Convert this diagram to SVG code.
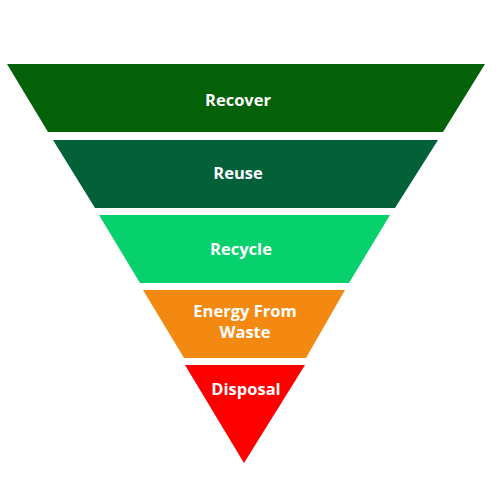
<svg xmlns="http://www.w3.org/2000/svg" width="500" height="500" viewBox="0 0 500 500">
<style>
.lbl{font-family:"Open Sans","Liberation Sans",sans-serif;font-weight:bold;font-size:16.5px;fill:#ffffff;text-anchor:middle}
</style>
<rect width="500" height="500" fill="#ffffff"/>
<g id="recover">
<polygon points="7,64 485,64 443,132 48,132" fill="#036108"/>
<text class="lbl" x="238" y="106">Recover</text>
</g>
<g id="reuse">
<polygon points="53,140 438,140 395,208 95,208" fill="#03613a"/>
<text class="lbl" x="238" y="179">Reuse</text>
</g>
<g id="recycle">
<polygon points="99,215 390,215 349,283 140,283" fill="#06d16c"/>
<text class="lbl" x="241" y="255">Recycle</text>
</g>
<g id="energy">
<polygon points="143,290 345,290 306,358 184,358" fill="#f48912"/>
<text class="lbl" x="245" y="317">Energy From</text>
<text class="lbl" x="245" y="338">Waste</text>
</g>
<g id="disposal">
<polygon points="185,365 305,365 244,463" fill="#fe0000"/>
<text class="lbl" x="246" y="395">Disposal</text>
</g>
<g id="connectors"></g>
</svg>
